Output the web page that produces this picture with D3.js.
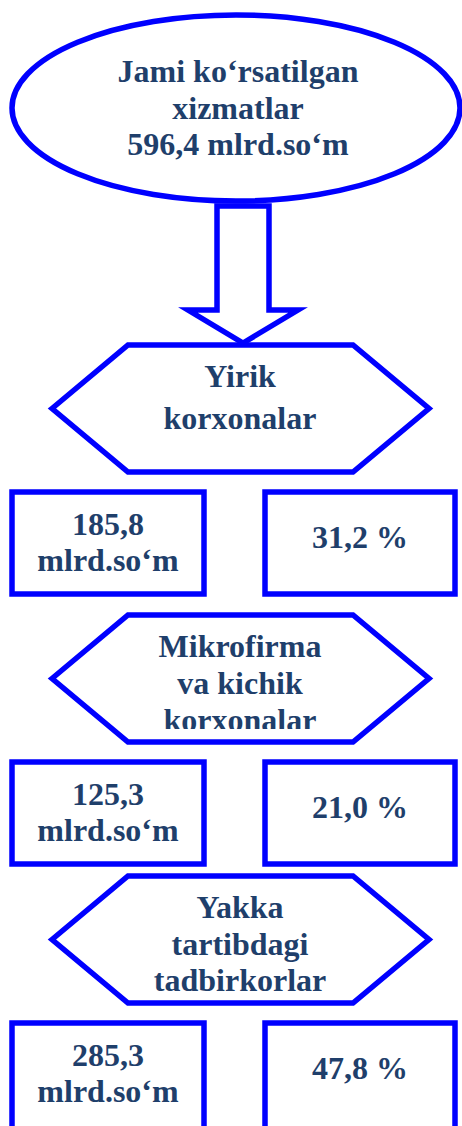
<!DOCTYPE html>
<html>
<head>
<meta charset="utf-8">
<script src="https://cdn.jsdelivr.net/npm/d3@7"></script>
<style>
body { margin: 0; background: #fff; }
svg { display: block; }
text {
  font-family: "Liberation Serif", "Times New Roman", serif;
  font-weight: bold;
  font-size: 32px;
  fill: #1f3f6b;
}
</style>
</head>
<body>
<svg id="chart" width="462" height="1126"></svg>
<script>
var totalTitle = ["Jami ko\u2018rsatilgan", "xizmatlar"];
var totalValue = 596.4;
var unit = "mlrd.so\u2018m";
var groups = [
  ["Yirik", "korxonalar"],
  ["Mikrofirma", "va kichik", "korxonalar"],
  ["Yakka", "tartibdagi", "tadbirkorlar"]
];
var amounts = [185.8, 125.3, 285.3];
var shares = [31.2, 21.0, 47.8];

var blue = "#0000ff";
var sw = 5.5;
var svg = d3.select("#chart");

// comma decimal, like the original
var uz = d3.formatLocale({decimal: ",", thousands: " ", grouping: [3], currency: ["", ""]});
var fmt = uz.format(".1f");

// layout
var hexTop = d3.scaleOrdinal().domain(d3.range(groups.length)).range([345, 615, 876]);
var hexH = 127;
var hexX = d3.scaleLinear().domain([0, 1]).range([52, 429]);
var hexInset = 76;
var lineGap = [42.3, 37.2, 36.5];
var clipBottom = [null, 114, null];
var col = d3.scaleOrdinal().domain(["amount", "share"]).range([12, 265]);
var colW = {amount: 192, share: 190};
var boxGap = 147, boxH = 102;

// arrow (drawn first, the ellipse covers its top)
var ax = d3.scaleLinear().domain([-1, 1]).range([188, 298]);
var arrow = d3.path();
arrow.moveTo(217, 206);
arrow.lineTo(217, 310);
arrow.lineTo(ax(-1), 310);
arrow.lineTo(ax(0), 343);
arrow.lineTo(ax(1), 310);
arrow.lineTo(269, 310);
arrow.lineTo(269, 206);
arrow.closePath();
svg.append("path")
  .attr("d", arrow.toString())
  .attr("fill", "#fff")
  .attr("stroke", blue)
  .attr("stroke-width", sw)
  .attr("stroke-linejoin", "miter");

// total ellipse
svg.append("ellipse")
  .attr("cx", 236).attr("cy", 108)
  .attr("rx", 224).attr("ry", 93)
  .attr("fill", "#fff")
  .attr("stroke", blue)
  .attr("stroke-width", sw);

var totalLines = totalTitle.concat([fmt(totalValue) + " " + unit]);
svg.append("text")
  .attr("text-anchor", "middle")
  .selectAll("tspan")
  .data(totalLines)
  .enter().append("tspan")
    .attr("x", 238)
    .attr("y", function(d, i) { return 82 + i * 36.6; })
    .text(function(d) { return d; });

// one block per group: hexagon + two boxes
var block = svg.selectAll("g.block")
  .data(groups)
  .enter().append("g")
    .attr("class", "block")
    .attr("transform", function(d, i) { return "translate(0," + hexTop(i) + ")"; });

block.append("path")
  .attr("d", function() {
    var p = d3.path();
    var l = hexX(0), r = hexX(1);
    p.moveTo(l, hexH / 2);
    p.lineTo(l + hexInset, 0);
    p.lineTo(r - hexInset, 0);
    p.lineTo(r, hexH / 2);
    p.lineTo(r - hexInset, hexH);
    p.lineTo(l + hexInset, hexH);
    p.closePath();
    return p.toString();
  })
  .attr("fill", "#fff")
  .attr("stroke", blue)
  .attr("stroke-width", sw)
  .attr("stroke-linejoin", "miter");

block.each(function(d, i) {
  var g = d3.select(this);
  if (clipBottom[i] != null) {
    g.append("clipPath").attr("id", "clip" + i)
      .append("rect")
        .attr("x", 0).attr("y", 0)
        .attr("width", 462).attr("height", clipBottom[i]);
  }
  var t = g.append("text").attr("text-anchor", "middle");
  if (clipBottom[i] != null) t.attr("clip-path", "url(#clip" + i + ")");
  t.selectAll("tspan")
    .data(d)
    .enter().append("tspan")
      .attr("x", 240)
      .attr("y", function(s, j) { return 42 + j * lineGap[i]; })
      .text(function(s) { return s; });
});

// amount and share boxes
block.each(function(d, i) {
  var g = d3.select(this).append("g")
    .attr("transform", "translate(0," + boxGap + ")");

  ["amount", "share"].forEach(function(k) {
    g.append("rect")
      .attr("x", col(k)).attr("y", 0)
      .attr("width", colW[k]).attr("height", boxH + (i === groups.length - 1 ? 10 : 0))
      .attr("fill", "#fff")
      .attr("stroke", blue)
      .attr("stroke-width", sw);
  });

  g.append("text")
    .attr("text-anchor", "middle")
    .selectAll("tspan")
    .data([fmt(amounts[i]), unit])
    .enter().append("tspan")
      .attr("x", col("amount") + colW.amount / 2)
      .attr("y", function(s, j) { return 43 + j * 36; })
      .text(function(s) { return s; });

  g.append("text")
    .attr("text-anchor", "middle")
    .attr("x", col("share") + colW.share / 2)
    .attr("y", 56)
    .text(fmt(shares[i]) + " %");
});
</script>
</body>
</html>
